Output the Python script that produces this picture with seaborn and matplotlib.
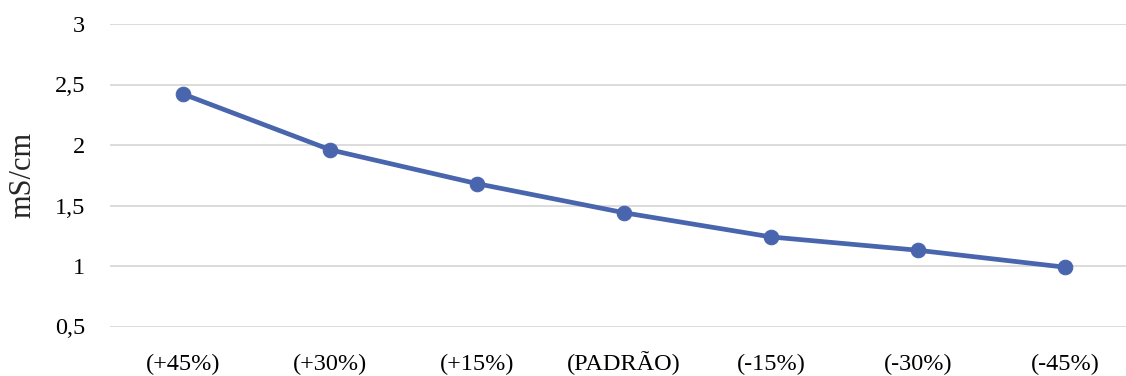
import matplotlib
matplotlib.use("Agg")
import matplotlib.pyplot as plt
from matplotlib.ticker import FuncFormatter
import pandas as pd
import seaborn as sns

# Conductivity by dosage variation
categories = ["(+45%)", "(+30%)", "(+15%)", "(PADRÃO)", "(-15%)", "(-30%)", "(-45%)"]
conductivity = [2.42, 1.96, 1.68, 1.44, 1.24, 1.13, 0.99]
y_ticks = [0.5, 1, 1.5, 2, 2.5, 3]

df = pd.DataFrame({"categoria": categories, "valor": conductivity})

sns.set_theme(style="white")
plt.rcParams["font.family"] = ["Liberation Serif", "DejaVu Serif"]

fig = plt.figure(figsize=(11.26, 3.76), dpi=100)
ax = fig.add_axes([110 / 1126, 49.5 / 376, 1028.5 / 1126, 302.5 / 376])

line_color = "#4865AD"
sns.lineplot(data=df, x="categoria", y="valor", ax=ax, color=line_color,
             linewidth=3.4, marker="o", markersize=10.5,
             markeredgecolor=line_color, sort=False)

ax.set_xlim(-0.5, len(categories) - 0.5)
ax.set_ylim(y_ticks[0], y_ticks[-1])
ax.set_yticks(y_ticks)
ax.yaxis.set_major_formatter(FuncFormatter(lambda v, _: f"{v:g}".replace(".", ",")))
ax.grid(axis="y", color="#D9D9D9", linewidth=1.3)
ax.set_axisbelow(True)
for s in ax.spines.values():
    s.set_visible(False)

ax.tick_params(axis="both", length=0, labelsize=17.5, labelcolor="#000000")
ax.tick_params(axis="y", pad=18)
ax.tick_params(axis="x", pad=31)
for lbl in ax.get_xticklabels():
    lbl.set_verticalalignment("baseline")
ax.set_xlabel("")
ax.set_ylabel("mS/cm", fontsize=22, labelpad=12)

fig.savefig("out.png", dpi=100)
